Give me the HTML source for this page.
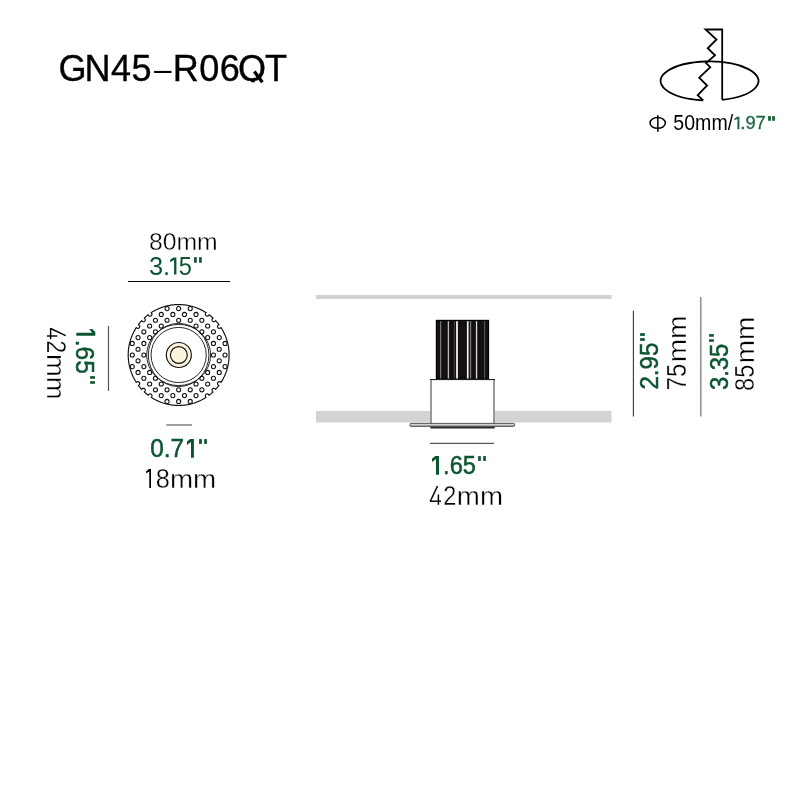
<!DOCTYPE html>
<html><head><meta charset="utf-8"><style>
html,body{margin:0;padding:0;background:#fff;width:800px;height:800px;overflow:hidden}
svg{display:block;will-change:transform}
text{font-family:"Liberation Sans",sans-serif}
</style></head><body>
<svg width="800" height="800" viewBox="0 0 800 800">
<rect width="800" height="800" fill="#fff"/>
<g fill="none" stroke="#000" stroke-width="1.8" stroke-linejoin="miter" stroke-miterlimit="10">
<path d="M722.2 99.8 A49 19.5 0 1 0 703.2 100.3"/>
<path d="M722.2 99.8 L722.2 29.5 L705.5 29.5 L716.5 39.5 L707.75 48.25 L715 55.25 L708 61.4 L706 63.1 L710.3 67.2 L699.2 77.7 L707.1 85.5 L697.7 95.2 L703.2 100.3"/>
</g>
<g fill="none" stroke="#000" stroke-width="1.5" stroke-linecap="round">
<ellipse cx="657.7" cy="122.95" rx="7.65" ry="5.4"/>
<line x1="657.85" y1="115.7" x2="657.85" y2="131.3"/>
</g>
<line x1="128" y1="281.5" x2="230" y2="281.5" stroke="#000" stroke-width="1.2"/>
<line x1="108.5" y1="326" x2="108.5" y2="391" stroke="#5a5050" stroke-width="1.2"/>
<g fill="none" stroke="#111" stroke-width="1.15">
<path d="M229.10,355.00 229.09,354.12 229.07,353.24 229.03,352.36 228.98,351.48 228.91,350.60 228.82,349.73 228.72,348.85 228.61,347.98 228.48,347.11 228.33,346.24 228.17,345.37 228.00,344.51 227.81,343.65 227.60,342.80 227.38,341.94 227.15,341.09 226.90,340.25 226.63,339.41 226.35,338.58 226.06,337.75 225.75,336.92 225.43,336.10 225.09,335.29 224.74,334.48 224.37,333.68 223.99,332.88 223.60,332.10 223.19,331.32 222.77,330.54 222.34,329.77 221.89,329.02 221.43,328.27 221.01,327.60 220.42,328.01 219.99,328.23 219.52,328.34 219.04,328.32 218.58,328.17 218.17,327.91 217.85,327.55 217.62,327.13 217.52,326.65 217.54,326.17 217.69,325.71 217.94,325.30 218.30,324.98 218.89,324.57 218.35,323.87 217.80,323.18 217.24,322.50 216.67,321.83 216.08,321.18 215.61,320.66 215.10,321.16 214.72,321.46 214.27,321.64 213.79,321.71 213.31,321.64 212.87,321.46 212.49,321.16 212.19,320.78 212.01,320.34 211.94,319.86 212.01,319.38 212.19,318.93 212.49,318.55 212.99,318.04 212.34,317.45 211.68,316.87 211.01,316.30 210.33,315.74 209.64,315.19 209.08,314.76 208.67,315.35 208.35,315.71 207.94,315.96 207.48,316.11 207.00,316.13 206.52,316.03 206.10,315.80 205.74,315.48 205.48,315.07 205.33,314.61 205.31,314.13 205.42,313.66 205.64,313.23 206.05,312.64 205.31,312.17 204.56,311.71 203.80,311.26 203.03,310.83 202.26,310.41 201.47,310.01 200.69,309.62 199.89,309.24 199.09,308.88 198.28,308.53 197.47,308.19 196.65,307.87 195.82,307.56 194.99,307.27 194.16,306.99 193.32,306.73 192.47,306.48 191.62,306.25 190.77,306.03 189.91,305.82 189.05,305.63 188.19,305.46 187.32,305.30 186.45,305.16 185.58,305.03 184.71,304.92 183.83,304.82 182.96,304.73 182.08,304.67 181.20,304.61 180.32,304.58 179.44,304.56 178.56,304.55 177.68,304.56 176.80,304.58 175.92,304.62 175.04,304.68 174.16,304.75 173.29,304.84 172.41,304.94 171.54,305.05 170.67,305.19 169.80,305.33 168.94,305.49 168.07,305.67 167.21,305.86 166.36,306.07 165.51,306.29 164.66,306.53 163.81,306.78 162.98,307.05 162.14,307.33 161.31,307.62 160.49,307.93 159.67,308.26 158.86,308.60 158.05,308.95 157.25,309.31 156.45,309.69 155.67,310.09 154.89,310.50 154.11,310.92 153.35,311.35 152.59,311.80 151.84,312.26 151.25,312.64 151.66,313.23 151.88,313.66 151.99,314.13 151.97,314.61 151.82,315.07 151.56,315.48 151.20,315.80 150.78,316.03 150.30,316.13 149.82,316.11 149.36,315.96 148.95,315.71 148.63,315.35 148.22,314.76 147.52,315.30 146.83,315.85 146.15,316.41 145.48,316.98 144.83,317.57 144.31,318.04 144.81,318.55 145.11,318.93 145.29,319.38 145.36,319.86 145.29,320.34 145.11,320.78 144.81,321.16 144.43,321.46 143.99,321.64 143.51,321.71 143.03,321.64 142.58,321.46 142.20,321.16 141.69,320.66 141.10,321.31 140.52,321.97 139.95,322.64 139.39,323.32 138.84,324.01 138.41,324.57 139.00,324.98 139.36,325.30 139.61,325.71 139.76,326.17 139.78,326.65 139.68,327.13 139.45,327.55 139.13,327.91 138.72,328.17 138.26,328.32 137.78,328.34 137.31,328.23 136.88,328.01 136.29,327.60 135.82,328.34 135.36,329.09 134.91,329.85 134.48,330.62 134.06,331.39 133.66,332.18 133.27,332.96 132.89,333.76 132.53,334.56 132.18,335.37 131.84,336.18 131.52,337.00 131.21,337.83 130.92,338.66 130.64,339.49 130.38,340.33 130.13,341.18 129.90,342.03 129.68,342.88 129.47,343.74 129.28,344.60 129.11,345.46 128.95,346.33 128.81,347.20 128.68,348.07 128.57,348.94 128.47,349.82 128.38,350.69 128.32,351.57 128.26,352.45 128.23,353.33 128.21,354.21 128.20,355.09 128.21,355.97 128.23,356.85 128.27,357.73 128.33,358.61 128.40,359.49 128.49,360.36 128.59,361.24 128.70,362.11 128.84,362.98 128.98,363.85 129.14,364.71 129.32,365.58 129.51,366.44 129.72,367.29 129.94,368.14 130.18,368.99 130.43,369.84 130.70,370.67 130.98,371.51 131.27,372.34 131.58,373.16 131.91,373.98 132.25,374.79 132.60,375.60 132.96,376.40 133.34,377.20 133.74,377.98 134.15,378.76 134.57,379.54 135.00,380.30 135.45,381.06 135.91,381.81 136.29,382.40 136.88,381.99 137.31,381.77 137.78,381.66 138.26,381.68 138.72,381.83 139.13,382.09 139.45,382.45 139.68,382.87 139.78,383.35 139.76,383.83 139.61,384.29 139.36,384.70 139.00,385.02 138.41,385.43 138.95,386.13 139.50,386.82 140.06,387.50 140.63,388.17 141.22,388.82 141.69,389.34 142.20,388.84 142.58,388.54 143.03,388.36 143.51,388.29 143.99,388.36 144.43,388.54 144.81,388.84 145.11,389.22 145.29,389.66 145.36,390.14 145.29,390.62 145.11,391.07 144.81,391.45 144.31,391.96 144.96,392.55 145.62,393.13 146.29,393.70 146.97,394.26 147.66,394.81 148.22,395.24 148.63,394.65 148.95,394.29 149.36,394.04 149.82,393.89 150.30,393.87 150.78,393.97 151.20,394.20 151.56,394.52 151.82,394.93 151.97,395.39 151.99,395.87 151.88,396.34 151.66,396.77 151.25,397.36 151.99,397.83 152.74,398.29 153.50,398.74 154.27,399.17 155.04,399.59 155.83,399.99 156.61,400.38 157.41,400.76 158.21,401.12 159.02,401.47 159.83,401.81 160.65,402.13 161.48,402.44 162.31,402.73 163.14,403.01 163.98,403.27 164.83,403.52 165.68,403.75 166.53,403.97 167.39,404.18 168.25,404.37 169.11,404.54 169.98,404.70 170.85,404.84 171.72,404.97 172.59,405.08 173.47,405.18 174.34,405.27 175.22,405.33 176.10,405.39 176.98,405.42 177.86,405.44 178.74,405.45 179.62,405.44 180.50,405.42 181.38,405.38 182.26,405.32 183.14,405.25 184.01,405.16 184.89,405.06 185.76,404.95 186.63,404.81 187.50,404.67 188.36,404.51 189.23,404.33 190.09,404.14 190.94,403.93 191.79,403.71 192.64,403.47 193.49,403.22 194.32,402.95 195.16,402.67 195.99,402.38 196.81,402.07 197.63,401.74 198.44,401.40 199.25,401.05 200.05,400.69 200.85,400.31 201.63,399.91 202.41,399.50 203.19,399.08 203.95,398.65 204.71,398.20 205.46,397.74 206.05,397.36 205.64,396.77 205.42,396.34 205.31,395.87 205.33,395.39 205.48,394.93 205.74,394.52 206.10,394.20 206.52,393.97 207.00,393.87 207.48,393.89 207.94,394.04 208.35,394.29 208.67,394.65 209.08,395.24 209.78,394.70 210.47,394.15 211.15,393.59 211.82,393.02 212.47,392.43 212.99,391.96 212.49,391.45 212.19,391.07 212.01,390.62 211.94,390.14 212.01,389.66 212.19,389.22 212.49,388.84 212.87,388.54 213.31,388.36 213.79,388.29 214.27,388.36 214.72,388.54 215.10,388.84 215.61,389.34 216.20,388.69 216.78,388.03 217.35,387.36 217.91,386.68 218.46,385.99 218.89,385.43 218.30,385.02 217.94,384.70 217.69,384.29 217.54,383.83 217.52,383.35 217.62,382.87 217.85,382.45 218.17,382.09 218.58,381.83 219.04,381.68 219.52,381.66 219.99,381.77 220.42,381.99 221.01,382.40 221.48,381.66 221.94,380.91 222.39,380.15 222.82,379.38 223.24,378.61 223.64,377.82 224.03,377.04 224.41,376.24 224.77,375.44 225.12,374.63 225.46,373.82 225.78,373.00 226.09,372.17 226.38,371.34 226.66,370.51 226.92,369.67 227.17,368.82 227.40,367.97 227.62,367.12 227.83,366.26 228.02,365.40 228.19,364.54 228.35,363.67 228.49,362.80 228.62,361.93 228.73,361.06 228.83,360.18 228.92,359.31 228.98,358.43 229.04,357.55 229.07,356.67 229.09,355.79Z" fill="#fff"/>
<g stroke-width="1.05"><circle cx="132.25" cy="343.40" r="2.05"/><circle cx="132.25" cy="355.00" r="2.05"/><circle cx="132.25" cy="366.60" r="2.05"/><circle cx="138.05" cy="337.60" r="2.05"/><circle cx="138.05" cy="349.20" r="2.05"/><circle cx="138.05" cy="360.80" r="2.05"/><circle cx="138.05" cy="372.40" r="2.05"/><circle cx="143.85" cy="331.80" r="2.05"/><circle cx="143.85" cy="343.40" r="2.05"/><circle cx="143.85" cy="355.00" r="2.05"/><circle cx="143.85" cy="366.60" r="2.05"/><circle cx="143.85" cy="378.20" r="2.05"/><circle cx="149.65" cy="326.00" r="2.05"/><circle cx="149.65" cy="337.60" r="2.05"/><circle cx="149.65" cy="372.40" r="2.05"/><circle cx="149.65" cy="384.00" r="2.05"/><circle cx="155.45" cy="320.20" r="2.05"/><circle cx="155.45" cy="331.80" r="2.05"/><circle cx="155.45" cy="378.20" r="2.05"/><circle cx="155.45" cy="389.80" r="2.05"/><circle cx="161.25" cy="314.40" r="2.05"/><circle cx="161.25" cy="326.00" r="2.05"/><circle cx="161.25" cy="384.00" r="2.05"/><circle cx="161.25" cy="395.60" r="2.05"/><circle cx="167.05" cy="308.60" r="2.05"/><circle cx="167.05" cy="320.20" r="2.05"/><circle cx="167.05" cy="389.80" r="2.05"/><circle cx="167.05" cy="401.40" r="2.05"/><circle cx="172.85" cy="314.40" r="2.05"/><circle cx="172.85" cy="395.60" r="2.05"/><circle cx="178.65" cy="308.60" r="2.05"/><circle cx="178.65" cy="320.20" r="2.05"/><circle cx="178.65" cy="389.80" r="2.05"/><circle cx="178.65" cy="401.40" r="2.05"/><circle cx="184.45" cy="314.40" r="2.05"/><circle cx="184.45" cy="395.60" r="2.05"/><circle cx="190.25" cy="308.60" r="2.05"/><circle cx="190.25" cy="320.20" r="2.05"/><circle cx="190.25" cy="389.80" r="2.05"/><circle cx="190.25" cy="401.40" r="2.05"/><circle cx="196.05" cy="314.40" r="2.05"/><circle cx="196.05" cy="326.00" r="2.05"/><circle cx="196.05" cy="384.00" r="2.05"/><circle cx="196.05" cy="395.60" r="2.05"/><circle cx="201.85" cy="320.20" r="2.05"/><circle cx="201.85" cy="331.80" r="2.05"/><circle cx="201.85" cy="378.20" r="2.05"/><circle cx="201.85" cy="389.80" r="2.05"/><circle cx="207.65" cy="326.00" r="2.05"/><circle cx="207.65" cy="337.60" r="2.05"/><circle cx="207.65" cy="372.40" r="2.05"/><circle cx="207.65" cy="384.00" r="2.05"/><circle cx="213.45" cy="331.80" r="2.05"/><circle cx="213.45" cy="343.40" r="2.05"/><circle cx="213.45" cy="355.00" r="2.05"/><circle cx="213.45" cy="366.60" r="2.05"/><circle cx="213.45" cy="378.20" r="2.05"/><circle cx="219.25" cy="337.60" r="2.05"/><circle cx="219.25" cy="349.20" r="2.05"/><circle cx="219.25" cy="360.80" r="2.05"/><circle cx="219.25" cy="372.40" r="2.05"/><circle cx="225.05" cy="343.40" r="2.05"/><circle cx="225.05" cy="355.00" r="2.05"/><circle cx="225.05" cy="366.60" r="2.05"/></g>
<g stroke-width="0.9">
<ellipse cx="178.65" cy="355.0" rx="32.0" ry="30.6"/>
<ellipse cx="178.65" cy="355.0" rx="30.3" ry="31.6"/>
<circle cx="178.65" cy="355.0" r="27.6"/>
</g>
<circle cx="178.85" cy="355" r="12.5" fill="#fcf3dd"/>
<circle cx="178.85" cy="355" r="8.45"/>
</g>
<line x1="166.3" y1="425" x2="192" y2="425" stroke="#999494" stroke-width="1.8"/>
<rect x="316" y="295" width="295.5" height="4" fill="#d2d2d2"/>
<rect x="316" y="411" width="295.5" height="11.5" fill="#d3d3d3"/>
<rect x="435.9" y="319.9" width="53.15" height="59.6" fill="#151010"/><rect x="436.4" y="320.4" width="52.15" height="58.6" fill="none" stroke="#000" stroke-width="1"/>
<g>
<rect x="440.0" y="321.2" width="1.2" height="57.3" fill="#777"/>
<rect x="447.75" y="321.2" width="1.3" height="57.3" fill="#bbb"/>
<rect x="453.9" y="321.2" width="1.0" height="57.3" fill="#444"/>
<rect x="456.1" y="321.2" width="1.8" height="57.3" fill="#f2f2f2"/>
<rect x="466.9" y="321.2" width="1.7" height="57.3" fill="#eee"/>
<rect x="469.9" y="321.2" width="1.3" height="57.3" fill="#777"/>
<rect x="475.9" y="321.2" width="1.3" height="57.3" fill="#ddd"/>
<rect x="484.0" y="321.2" width="1.1" height="57.3" fill="#555"/>
</g>
<rect x="430" y="379" width="65" height="49.5" fill="#fff"/>
<rect x="430" y="380" width="2" height="47" fill="#999"/>
<rect x="493" y="380" width="2" height="47" fill="#999"/>
<rect x="430" y="379" width="65" height="1.1" fill="#222"/>
<rect x="430.2" y="426.6" width="64.6" height="2" rx="0.8" fill="#2a2a2a"/>
<rect x="409.9" y="423.4" width="104.8" height="3.0" rx="1.2" fill="#a8a8a8" stroke="#3a3a3a" stroke-width="0.8"/>
<rect x="410.6" y="424.1" width="103.4" height="1.0" fill="#d6d6d6"/>
<line x1="430" y1="443.4" x2="494" y2="443.4" stroke="#5f5656" stroke-width="1.2"/>
<line x1="633.4" y1="310.8" x2="633.4" y2="416.6" stroke="#3a3035" stroke-width="1.1"/>
<line x1="700.8" y1="297.1" x2="700.8" y2="416.6" stroke="#8a8585" stroke-width="1.4"/>
<text x="58.50 84.46 111.03 131.55 172.82 199.34 219.84 238.09 264.93" y="81.0" font-size="36.1" fill="#000" stroke="#000" stroke-width="0.35">GN45R06QT</text><rect x="154.1" y="70.9" width="17.4" height="2.1" fill="#000"/><rect x="246" y="82.3" width="19" height="8" fill="#fff"/><line x1="254.3" y1="71.6" x2="262.4" y2="82.3" stroke="#000" stroke-width="3.3"/>
<text x="673.350" y="130.450" font-size="21.563" font-weight="normal" fill="#000" textLength="59.839" lengthAdjust="spacingAndGlyphs">50mm/</text>
<path d="M739.40 116.70 L739.40 129.30 L737.45 129.30 L737.45 118.90 L734.25 120.30 L734.25 118.70 L736.95 116.70Z" fill="#1d6840"/>
<text x="740.350" y="129.450" font-size="18.172" fill="#1d6840" stroke="#1d6840" stroke-width="0.3" textLength="25.458" lengthAdjust="spacingAndGlyphs">.97</text>
<text x="148.950" y="250.400" font-size="24.386" font-weight="normal" fill="#000" stroke="#fff" stroke-width="0.35" textLength="68.702" lengthAdjust="spacingAndGlyphs">80mm</text>
<text x="149.000" y="274.550" font-size="25.130" fill="#0b5530" textLength="21.191" lengthAdjust="spacingAndGlyphs">3.</text>
<path d="M176.40 257.40 L176.40 274.60 L174.10 274.60 L174.10 260.00 L170.10 262.00 L170.10 259.70 L173.50 257.40Z" fill="#0b5530"/>
<text x="178.650" y="274.550" font-size="25.130" fill="#0b5530" textLength="13.153" lengthAdjust="spacingAndGlyphs">5</text>
<path d="M95.30 335.75 L76.30 335.75 L76.30 332.80 L92.10 332.80 L89.30 329.00 L92.30 329.00 L95.30 331.95Z" fill="#0b5530"/>
<text transform="translate(76.300 339.650) rotate(90)" font-size="26.277" fill="#0b5530" stroke="#0b5530" stroke-width="0.5" textLength="34.133" lengthAdjust="spacingAndGlyphs">.65</text>
<g stroke="#000" stroke-width="1.45" stroke-linecap="butt"><line x1="65.70" y1="335.70" x2="50.60" y2="328.50"/><line x1="50.60" y1="328.10" x2="50.60" y2="339.20"/><line x1="57.30" y1="336.00" x2="47.00" y2="336.00"/></g>
<text transform="translate(46.750 340.200) rotate(90)" font-size="27.735" fill="#000" stroke="#fff" stroke-width="0.35" textLength="12.981" lengthAdjust="spacingAndGlyphs">2</text>
<text transform="translate(46.750 353.950) rotate(90)" font-size="24.961" fill="#000" stroke="#fff" stroke-width="0.35" textLength="45.480" lengthAdjust="spacingAndGlyphs">mm</text>
<text x="150.250" y="457.350" font-size="25.669" fill="#0b5530" stroke="#0b5530" stroke-width="0.5" textLength="33.817" lengthAdjust="spacingAndGlyphs">0.7</text>
<path d="M193.90 439.00 L193.90 457.75 L191.00 457.75 L191.00 442.10 L186.95 444.90 L186.95 441.60 L190.15 439.00Z" fill="#0b5530"/>
<path d="M151.00 469.00 L151.00 487.90 L149.30 487.90 L149.30 471.40 L146.10 473.30 L146.10 471.40 L148.80 469.00Z" fill="#000"/>
<text x="155.750" y="488.000" font-size="27.438" fill="#000" stroke="#fff" stroke-width="0.35" textLength="14.115" lengthAdjust="spacingAndGlyphs">8</text>
<text x="169.900" y="488.000" font-size="25.474" fill="#000" stroke="#fff" stroke-width="0.35" textLength="46.277" lengthAdjust="spacingAndGlyphs">mm</text>
<path d="M439.00 455.90 L439.00 474.85 L436.00 474.85 L436.00 459.10 L432.00 461.90 L432.00 458.70 L435.15 455.90Z" fill="#0b5530"/>
<text x="443.090" y="474.350" font-size="25.560" fill="#0b5530" stroke="#0b5530" stroke-width="0.5" textLength="32.758" lengthAdjust="spacingAndGlyphs">.65</text>
<g stroke="#000" stroke-width="1.45" stroke-linecap="butt"><line x1="437.50" y1="486.10" x2="430.30" y2="501.20"/><line x1="429.90" y1="501.20" x2="441.00" y2="501.20"/><line x1="438.40" y1="494.50" x2="438.40" y2="504.80"/></g>
<text x="443.350" y="505.050" font-size="27.295" fill="#000" stroke="#fff" stroke-width="0.35" textLength="13.102" lengthAdjust="spacingAndGlyphs">2</text>
<text x="456.830" y="505.050" font-size="25.751" fill="#000" stroke="#fff" stroke-width="0.35" textLength="46.151" lengthAdjust="spacingAndGlyphs">mm</text>
<text transform="translate(658.350 389.550) rotate(-90)" x="0" y="0" font-size="25.669" font-weight="normal" fill="#0b5530" stroke="#0b5530" stroke-width="0.5" textLength="46.909" lengthAdjust="spacingAndGlyphs">2.95</text>
<text transform="translate(686.200 390.350) rotate(-90)" font-size="28.424" fill="#000" stroke="#fff" stroke-width="0.35" textLength="26.591" lengthAdjust="spacingAndGlyphs">75</text>
<text transform="translate(686.200 362.350) rotate(-90)" font-size="24.904" fill="#000" stroke="#fff" stroke-width="0.35" textLength="46.882" lengthAdjust="spacingAndGlyphs">mm</text>
<text transform="translate(727.700 390.050) rotate(-90)" x="0" y="0" font-size="26.277" font-weight="normal" fill="#0b5530" stroke="#0b5530" stroke-width="0.5" textLength="46.238" lengthAdjust="spacingAndGlyphs">3.35</text>
<text transform="translate(754.200 390.900) rotate(-90)" font-size="28.136" fill="#000" stroke="#fff" stroke-width="0.35" textLength="26.115" lengthAdjust="spacingAndGlyphs">85</text>
<text transform="translate(754.200 363.150) rotate(-90)" font-size="25.079" fill="#000" stroke="#fff" stroke-width="0.35" textLength="46.525" lengthAdjust="spacingAndGlyphs">mm</text>
<rect x="194.06" y="257.14" width="2.70" height="5.60" fill="#0b5530"/>
<rect x="199.10" y="257.14" width="2.65" height="5.60" fill="#0b5530"/>
<rect x="199.10" y="439.10" width="2.75" height="4.80" fill="#0b5530"/>
<rect x="204.20" y="439.10" width="2.70" height="4.80" fill="#0b5530"/>
<rect x="478.10" y="456.10" width="2.75" height="4.80" fill="#0b5530"/>
<rect x="483.20" y="456.10" width="2.65" height="4.80" fill="#0b5530"/>
<rect x="90.15" y="376.14" width="4.75" height="2.63" fill="#0b5530"/>
<rect x="90.15" y="381.17" width="4.75" height="2.61" fill="#0b5530"/>
<rect x="640.10" y="333.19" width="4.74" height="2.69" fill="#0b5530"/>
<rect x="640.10" y="338.14" width="4.74" height="2.69" fill="#0b5530"/>
<rect x="709.10" y="334.10" width="4.74" height="2.66" fill="#0b5530"/>
<rect x="709.10" y="339.24" width="4.74" height="2.55" fill="#0b5530"/>
<rect x="768.10" y="116.10" width="2.75" height="4.70" fill="#0f5c33"/>
<rect x="772.20" y="116.10" width="2.70" height="4.70" fill="#0f5c33"/>
</svg>
</body></html>
